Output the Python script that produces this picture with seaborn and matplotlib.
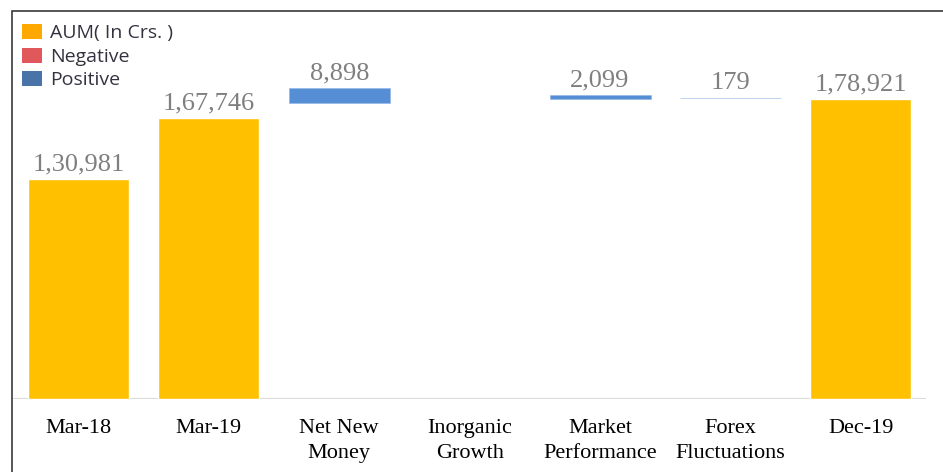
import numpy as np
import pandas as pd
import seaborn as sns
import matplotlib.pyplot as plt
from matplotlib.patches import Patch, Rectangle

# categories along the x axis
categories = ['Mar-18', 'Mar-19', 'Net New\nMoney', 'Inorganic\nGrowth',
              'Market\nPerformance', 'Forex\nFluctuations', 'Dec-19']

# AUM totals (in Crs.)
total_names = ['Mar-18', 'Mar-19', 'Dec-19']
total_values = [130981, 167746, 178921]
total_labels = ['1,30,981', '1,67,746', '1,78,921']

# movements (floating bars) - bottoms
delta_names = ['Net New\nMoney', 'Market\nPerformance', 'Forex\nFluctuations']
delta_values = [8898, 2099, 179]
delta_bottoms = [176700, 178900, 179300]
delta_labels = ['8,898', '2,099', '179']

legend_labels = ['AUM( In Crs. )', 'Negative', 'Positive']
legend_colors = ['#FFA800', '#E0585B', '#4A74A8']

sns.set_theme(style='white')
plt.rcParams['font.family'] = ['Liberation Serif', 'DejaVu Serif']

fig = plt.figure(figsize=(9.43, 4.72), dpi=100)
ax = fig.add_axes([12 / 943, 73.5 / 472, (926 - 12) / 943, (398.5 - 20) / 472])

df = pd.DataFrame({'cat': total_names, 'aum': total_values})
sns.barplot(data=df, x='cat', y='aum', order=categories, color='#FFC000',
            saturation=1, width=0.775, ax=ax)

pos = [categories.index(n) for n in delta_names]
ax.bar(pos, delta_values, bottom=delta_bottoms, width=0.775,
       color='#558ED5', edgecolor='#8DB3E2', linewidth=0.4)

# value labels
for n, v, t in zip(total_names, total_values, total_labels):
    ax.annotate(t, (categories.index(n), v), xytext=(0, 2.5), textcoords='offset points',
                ha='center', va='bottom', fontsize=19, color='#7F7F7F')
for p, v, b, t in zip(pos, delta_values, delta_bottoms, delta_labels):
    ax.annotate(t, (p, v + b), xytext=(0, 2.5), textcoords='offset points',
                ha='center', va='bottom', fontsize=19, color='#7F7F7F')

ax.set_xlim(-0.51, 6.5)
ax.set_ylim(0, 226000)
ax.axhline(0, color='#DCDCDC', lw=1.6, zorder=0)
sns.despine(ax=ax, left=True, bottom=True)
ax.set_yticks([])
ax.set_xlabel('')
ax.set_ylabel('')
ax.set_xticks(range(len(categories)))
ax.set_xticklabels(categories, fontsize=16, color='black', linespacing=1.38)
ax.tick_params(axis='x', length=0, pad=15)

handles = [Patch(facecolor=c, edgecolor='none') for c in legend_colors]
leg = fig.legend(handles, legend_labels, loc='upper left', bbox_to_anchor=(22 / 943, 1 - 24 / 472),
                 frameon=False, prop={'family': 'Open Sans', 'size': 14},
                 handlelength=1.05, handleheight=0.8, handletextpad=0.4,
                 labelspacing=0.28, borderaxespad=0, borderpad=0)
for t in leg.get_texts():
    t.set_color('#333340')

# outer frame
fig.patches.append(Rectangle((12 / 943, -0.05), 1.0, 1 - 11 / 472 + 0.05,
                             transform=fig.transFigure, fill=False,
                             edgecolor='#3A3A3A', lw=1.2))

fig.savefig('out.png', dpi=100)
